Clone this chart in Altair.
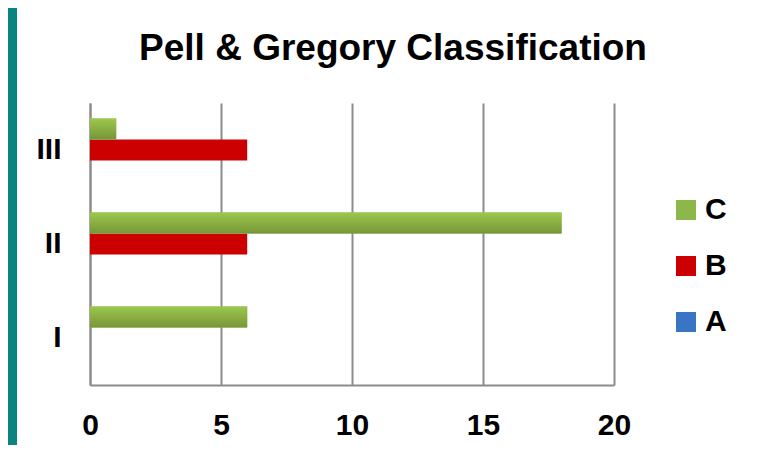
import altair as alt
import pandas as pd

categories = ["I", "II", "III"]
series_a = [0, 0, 0]
series_b = [0, 6, 6]
series_c = [6, 18, 1]
series_names = ["C", "B", "A"]
series_colors = ["#8db74a", "#cc0000", "#3a74c4"]
x_ticks = [0, 5, 10, 15, 20]

rows = []
for i, cat in enumerate(categories):
    rows.append({"cat": cat, "series": "A", "value": series_a[i]})
    rows.append({"cat": cat, "series": "B", "value": series_b[i]})
    rows.append({"cat": cat, "series": "C", "value": series_c[i]})
df = pd.DataFrame(rows)

FONT = "Liberation Sans"

x_enc = alt.X(
    "value:Q",
    scale=alt.Scale(domain=[0, 20], nice=False, zero=True),
    axis=alt.Axis(
        values=x_ticks,
        title=None,
        grid=True,
        gridColor="#8c8c8c",
        gridWidth=2,
        domainColor="#8c8c8c",
        domainWidth=2,
        ticks=False,
        labelFlush=False,
        labelFont=FONT,
        labelFontSize=30,
        labelFontWeight="bold",
        labelColor="#000000",
        labelPadding=25,
    ),
)
y_enc = alt.Y(
    "cat:N",
    sort=["III", "II", "I"],
    scale=alt.Scale(paddingInner=0.33, paddingOuter=0.165),
    axis=alt.Axis(
        title=None,
        domainColor="#8c8c8c",
        domainWidth=2,
        ticks=False,
        labelFont=FONT,
        labelFontSize=30,
        labelFontWeight="bold",
        labelColor="#000000",
        labelPadding=29,
    ),
)
yoff_enc = alt.YOffset("series:N", sort=series_names, scale=alt.Scale(paddingInner=0, paddingOuter=0))

base = alt.Chart(df)

bars = base.mark_bar().encode(
    x=x_enc,
    y=y_enc,
    yOffset=yoff_enc,
    color=alt.Color(
        "series:N",
        sort=series_names,
        scale=alt.Scale(domain=series_names, range=series_colors),
        legend=alt.Legend(
            title=None,
            orient="none",
            legendX=581,
            legendY=92,
            padding=0,
            symbolType="square",
            symbolSize=400,
            symbolStrokeWidth=0,
            labelFont=FONT,
            labelFontSize=30,
            labelFontWeight="bold",
            labelColor="#000000",
            labelOffset=4,
            rowPadding=26,
        ),
    ),
)

green_grad = alt.Gradient(
    gradient="linear",
    x1=0, y1=0, x2=0, y2=1,
    stops=[
        alt.GradientStop(color="#9cc84b", offset=0),
        alt.GradientStop(color="#77953a", offset=1),
    ],
)
green = base.transform_filter(alt.datum.series == "C").mark_bar(color=green_grad).encode(
    x=alt.X("value:Q"),
    y=alt.Y("cat:N", sort=["III", "II", "I"]),
    yOffset=yoff_enc,
)

strip = alt.Chart(pd.DataFrame({"k": [0]})).mark_rect(color="#0b8480").encode(
    x=alt.value(-82), x2=alt.value(-73), y=alt.value(-95), y2=alt.value(342)
)

chart = (
    alt.layer(strip, bars, green)
    .properties(
        width=524,
        height=282,
        padding={"left": 82, "top": 95, "right": 130, "bottom": 60},
        autosize=alt.AutoSizeParams(type="none"),
        background="#ffffff",
        title=alt.TitleParams(
            text="Pell & Gregory Classification",
            font=FONT,
            fontSize=37,
            fontWeight="bold",
            color="#000000",
            anchor="middle",
            dx=41,
            offset=-89,
            baseline="alphabetic",
        ),
    )
    .configure_view(stroke=None)
)

chart.save("out.html", embed_options={"renderer": "svg", "actions": False})
